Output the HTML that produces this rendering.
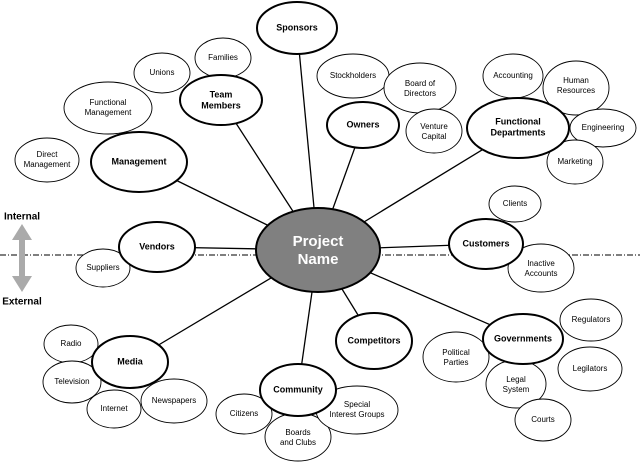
<!DOCTYPE html>
<html><head><meta charset="utf-8"><style>body{margin:0;background:#fff}svg{display:block}text{font-family:"Liberation Sans",sans-serif;text-anchor:middle;dominant-baseline:middle}</style></head><body>
<svg width="640" height="462" viewBox="0 0 640 462">
<g stroke="#000" stroke-width="1.3">
<line x1="318" y1="250" x2="297" y2="28"/><line x1="318" y1="250" x2="221" y2="100"/><line x1="318" y1="250" x2="363" y2="125"/><line x1="318" y1="250" x2="518" y2="128"/><line x1="318" y1="250" x2="139" y2="162"/><line x1="318" y1="250" x2="157" y2="247"/><line x1="318" y1="250" x2="486" y2="244"/><line x1="318" y1="250" x2="130" y2="362"/><line x1="318" y1="250" x2="374" y2="341"/><line x1="318" y1="250" x2="523" y2="339"/><line x1="318" y1="250" x2="298" y2="390"/>
</g>
<line x1="0" y1="255" x2="640" y2="255" stroke="#333" stroke-width="1.2" stroke-dasharray="6,2,1,2"/>
<g fill="#aaa"><rect x="19" y="236" width="6" height="46"/><polygon points="22,224 12,240 32,240"/><polygon points="22,292 12,276 32,276"/></g>
<g font-weight="bold" font-size="10"><text x="22" y="217">Internal</text><text x="22" y="302">External</text></g>
<g fill="#fff" stroke="#000" stroke-width="0.9">
<ellipse cx="223" cy="58" rx="28" ry="20"/><ellipse cx="162" cy="73" rx="28" ry="20"/><ellipse cx="108" cy="108" rx="44" ry="26"/><ellipse cx="47" cy="160" rx="32" ry="22"/><ellipse cx="353" cy="76" rx="36" ry="22"/><ellipse cx="420" cy="88" rx="36" ry="25"/><ellipse cx="434" cy="131" rx="28" ry="22"/><ellipse cx="513" cy="76" rx="30" ry="22"/><ellipse cx="576" cy="88" rx="33" ry="27"/><ellipse cx="603" cy="128" rx="33" ry="19"/><ellipse cx="575" cy="162" rx="28" ry="22"/><ellipse cx="515" cy="204" rx="26" ry="18"/><ellipse cx="541" cy="268" rx="33" ry="24"/><ellipse cx="103" cy="268" rx="27" ry="19"/><ellipse cx="71" cy="344" rx="27" ry="19"/><ellipse cx="72" cy="382" rx="29" ry="21"/><ellipse cx="114" cy="409" rx="27" ry="19"/><ellipse cx="174" cy="401" rx="33" ry="22"/><ellipse cx="244" cy="414" rx="28" ry="20"/><ellipse cx="298" cy="437" rx="33" ry="24"/><ellipse cx="357" cy="410" rx="41" ry="24"/><ellipse cx="456" cy="357" rx="33" ry="25"/><ellipse cx="516" cy="384" rx="30" ry="24"/><ellipse cx="591" cy="320" rx="31" ry="21"/><ellipse cx="590" cy="369" rx="32" ry="22"/><ellipse cx="543" cy="420" rx="28" ry="21"/>
</g>
<g fill="#fff" stroke="#000" stroke-width="2">
<ellipse cx="297" cy="28" rx="40" ry="26"/><ellipse cx="221" cy="100" rx="41" ry="25"/><ellipse cx="363" cy="125" rx="36" ry="23"/><ellipse cx="518" cy="128" rx="51" ry="30"/><ellipse cx="139" cy="162" rx="48" ry="30"/><ellipse cx="157" cy="247" rx="38" ry="25"/><ellipse cx="486" cy="244" rx="37" ry="25"/><ellipse cx="130" cy="362" rx="38" ry="26"/><ellipse cx="374" cy="341" rx="38" ry="28"/><ellipse cx="523" cy="339" rx="40" ry="25"/><ellipse cx="298" cy="390" rx="38" ry="26"/>
<ellipse cx="318" cy="250" rx="62" ry="42" fill="#808080"/>
</g>
<g font-size="15" font-weight="bold" fill="#fff"><text x="318" y="242">Project</text><text x="318" y="260">Name</text></g>
<g font-size="9" font-weight="bold">
<text x="297" y="28">Sponsors</text><text x="221" y="95">Team</text><text x="221" y="106">Members</text><text x="363" y="125">Owners</text><text x="518" y="122">Functional</text><text x="518" y="133">Departments</text><text x="139" y="162">Management</text><text x="157" y="247">Vendors</text><text x="486" y="244">Customers</text><text x="130" y="362">Media</text><text x="374" y="341">Competitors</text><text x="523" y="339">Governments</text><text x="298" y="390">Community</text>
</g>
<g font-size="8">
<text x="223" y="58">Families</text><text x="162" y="73">Unions</text><text x="108" y="103">Functional</text><text x="108" y="113">Management</text><text x="47" y="155">Direct</text><text x="47" y="165">Management</text><text x="353" y="76">Stockholders</text><text x="420" y="84">Board of</text><text x="420" y="94">Directors</text><text x="434" y="127">Venture</text><text x="434" y="137">Capital</text><text x="513" y="76">Accounting</text><text x="576" y="81">Human</text><text x="576" y="91">Resources</text><text x="603" y="128">Engineering</text><text x="575" y="162">Marketing</text><text x="515" y="204">Clients</text><text x="541" y="264">Inactive</text><text x="541" y="274">Accounts</text><text x="103" y="268">Suppliers</text><text x="71" y="344">Radio</text><text x="72" y="382">Television</text><text x="114" y="409">Internet</text><text x="174" y="401">Newspapers</text><text x="244" y="414">Citizens</text><text x="298" y="433">Boards</text><text x="298" y="443">and Clubs</text><text x="357" y="405">Special</text><text x="357" y="415">Interest Groups</text><text x="456" y="353">Political</text><text x="456" y="363">Parties</text><text x="516" y="380">Legal</text><text x="516" y="390">System</text><text x="591" y="320">Regulators</text><text x="590" y="369">Legilators</text><text x="543" y="420">Courts</text>
</g>
</svg>
</body></html>
